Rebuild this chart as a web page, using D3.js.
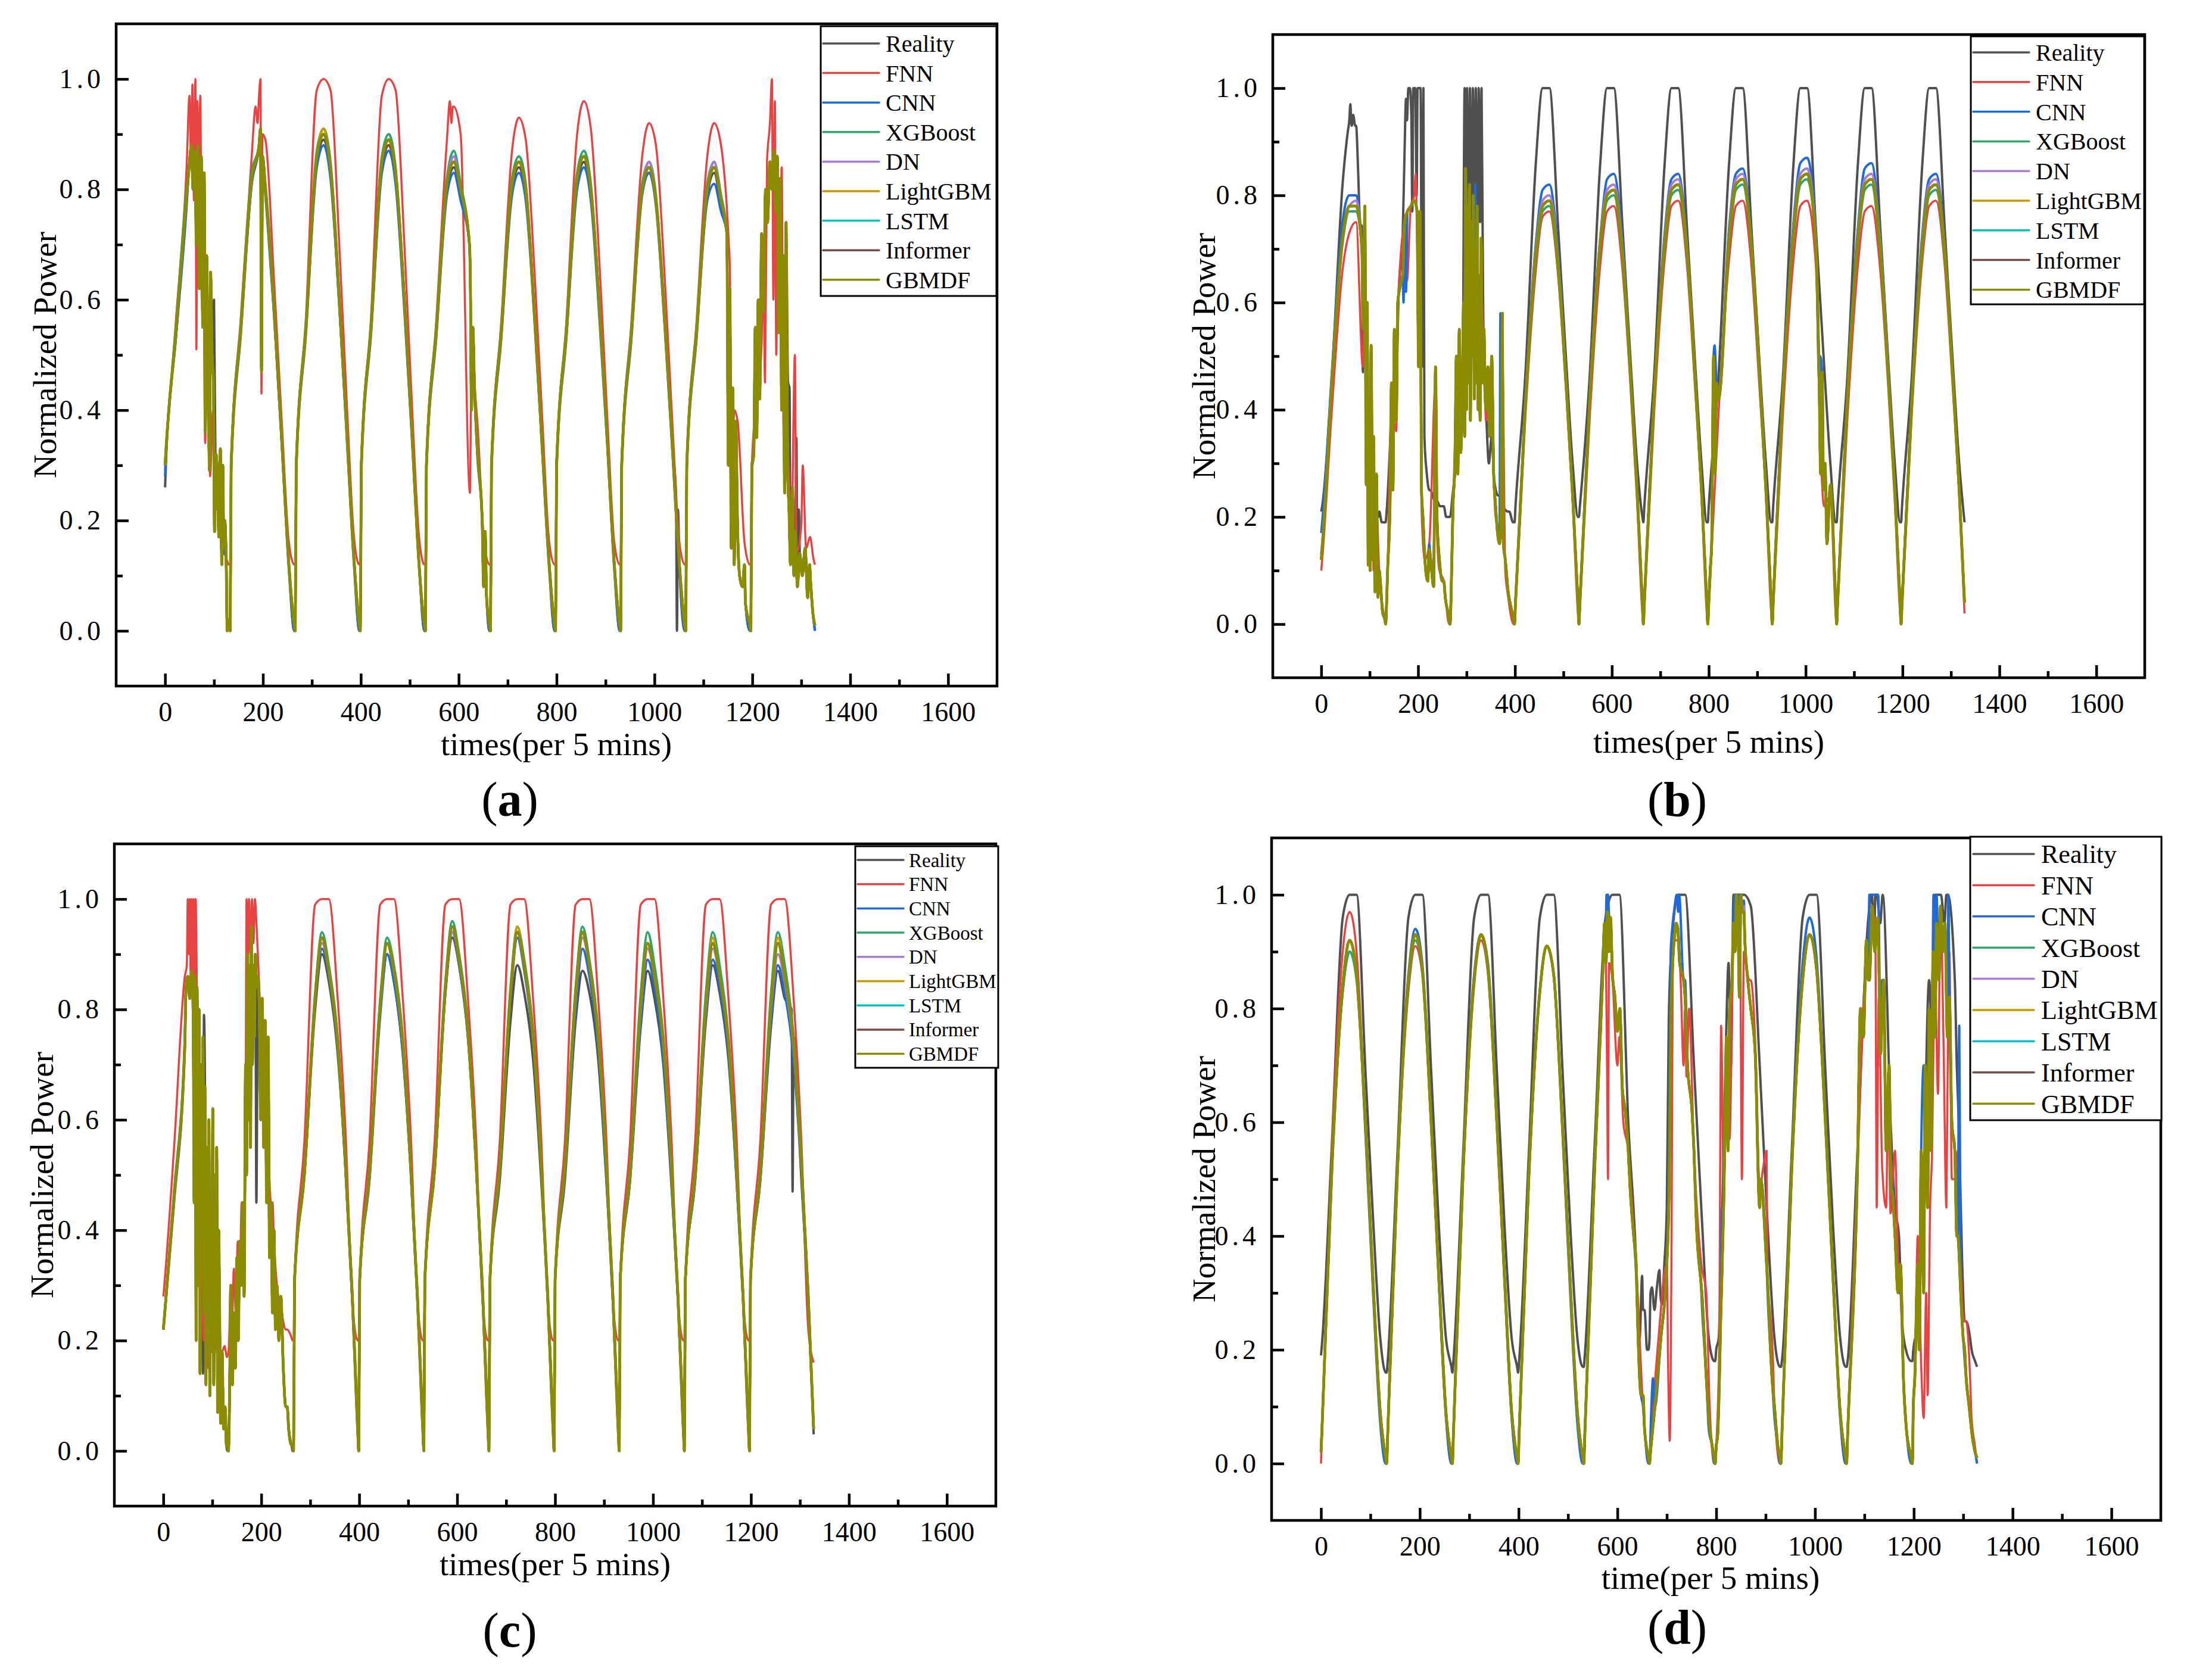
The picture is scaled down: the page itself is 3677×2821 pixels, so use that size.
<!DOCTYPE html>
<html>
<head>
<meta charset="utf-8">
<script src="https://cdn.jsdelivr.net/npm/d3@7"></script>
<style>
  body { margin: 0; background: #fff; }
  text { font-family: "Liberation Serif", "Times New Roman", serif; }
</style>
</head>
<body>
<div id="chart"></div>
<script>
//each day is sampled at the same offsets; values are in hundredths of normalized power
var dayStarts = [0, 133, 266, 399, 532, 665, 798, 931, 1064, 1197];
var dayOffsets = [0, 2, 22, 44, 58, 72, 90, 106, 120, 131];

var seriesNames = ["Reality", "FNN", "CNN", "XGBoost", "DN", "LightGBM", "LSTM", "Informer", "GBMDF"];
var seriesColors = ["#505050", "#e84343", "#1f6ad8", "#2ea56a", "#a87bd8", "#c89a00", "#00c4c4", "#7a4a4a", "#8c8c00"];
var seriesWidths = [4, 3.5, 4, 4, 4, 4, 4, 4, 4.8];

var xTicks = [0, 200, 400, 600, 800, 1000, 1200, 1400, 1600];
var xMinorTicks = [100, 300, 500, 700, 900, 1100, 1300, 1500];
var yTicks = [0, 0.2, 0.4, 0.6, 0.8, 1.0];
var yMinorTicks = [0.1, 0.3, 0.5, 0.7, 0.9];

// ---------- panel (a) ----------
var realityA = [
26,31,53,78,84,81,49,29,14,1,
0,30,55,81,85,80,57,33,12,0,
0,30,55,85,89,83,59,35,13,0,
0,30,55,84,88,82,59,35,12,0,
0,30,54,80,84,79,57,33,12,0,
0,30,54,80,84,79,57,33,12,0,
0,30,54,81,85,79,58,34,12,0,
0,30,54,80,83,78,56,33,12,0,
0,30,54,79,83,77,62,35,12,0,
0,30,50,77,84,75,42,25,12,0];
var fnnA = [
29,32,56,84,95,90,45,28,14,12,
12,30,57,86,93,89,63,37,16,12,
12,30,57,98,100,98,70,40,17,12,
12,30,57,97,100,98,70,40,17,12,
12,30,56,89,95,90,66,38,16,12,
12,30,56,87,93,89,65,38,16,12,
12,30,56,90,96,91,66,38,16,12,
12,30,56,86,92,88,64,37,16,12,
12,30,56,86,92,88,66,38,16,12,
12,30,52,84,90,84,50,30,15,12];
var cnnA = [
28,32,53,77,84,81,49,29,14,1,
0,29,54,81,85,79,57,33,11,0,
0,29,54,84,88,82,59,34,12,0,
0,29,54,83,87,81,58,34,12,0,
0,29,53,79,83,78,56,32,11,0,
0,29,53,79,83,78,56,32,11,0,
0,29,53,80,84,78,56,33,11,0,
0,29,53,79,83,77,55,32,11,0,
0,29,53,78,81,76,61,34,11,0,
0,29,49,76,82,74,41,24,11,0];
var xgbA = [
30,33,55,80,86,83,50,30,15,2,
0,30,56,83,87,81,59,34,12,1,
0,30,56,87,91,85,61,35,13,1,
0,30,56,86,90,84,60,35,12,1,
0,30,55,82,87,81,58,34,12,1,
0,30,55,82,86,81,57,33,12,1,
0,30,55,83,87,81,58,34,12,1,
0,30,55,81,85,79,57,33,12,1,
0,30,55,81,85,79,63,35,12,1,
0,30,51,80,87,77,43,25,12,1];
var dnA = [
30,33,54,79,85,82,50,30,15,2,
0,30,55,82,86,80,58,34,12,1,
0,30,55,86,90,84,60,35,13,1,
0,30,55,85,89,83,60,35,12,1,
0,30,54,81,86,80,57,33,12,1,
0,30,54,81,85,80,57,33,12,1,
0,30,54,82,86,80,58,34,12,1,
0,30,54,80,85,78,56,33,12,1,
0,30,54,80,85,78,62,35,12,1,
0,30,50,78,86,76,42,25,12,1];
var lgbmA = [
30,33,54,79,85,82,50,30,15,2,
0,30,55,82,86,80,58,34,12,1,
0,30,55,86,91,84,60,35,13,1,
0,30,55,85,89,83,60,35,12,1,
0,30,54,81,85,80,57,33,12,1,
0,30,54,81,85,80,57,33,12,1,
0,30,54,82,86,80,58,34,12,1,
0,30,54,80,84,78,56,33,12,1,
0,30,54,80,84,78,62,35,12,1,
0,30,50,78,85,76,42,25,12,1];
var lstmA = [
30,33,54,79,85,82,50,30,15,2,
0,30,55,82,86,80,58,34,12,1,
0,30,55,86,90,84,60,35,13,1,
0,30,55,85,89,83,60,35,12,1,
0,30,54,81,85,80,57,33,12,1,
0,30,54,81,85,80,57,33,12,1,
0,30,54,82,86,80,58,34,12,1,
0,30,54,80,84,78,56,33,12,1,
0,30,54,80,84,78,62,35,12,1,
0,30,50,78,85,76,42,25,12,1];
var informerA = [
30,33,54,79,85,82,50,30,15,2,
0,30,55,82,86,80,58,34,12,1,
0,30,55,86,90,84,60,35,13,1,
0,30,55,85,88,83,60,35,12,1,
0,30,54,81,85,80,57,33,12,1,
0,30,54,81,85,80,57,33,12,1,
0,30,54,82,86,80,58,34,12,1,
0,30,54,80,84,78,56,33,12,1,
0,30,54,80,84,78,62,35,12,1,
0,30,50,78,85,76,42,25,12,1];
var gbmdfA = [
30,33,54,79,85,82,50,30,15,2,
0,30,55,82,86,80,58,34,12,1,
0,30,55,86,90,84,60,35,13,1,
0,30,55,85,89,83,60,35,12,1,
0,30,54,81,85,80,57,33,12,1,
0,30,54,81,85,80,57,33,12,1,
0,30,54,82,86,80,58,34,12,1,
0,30,54,80,84,78,56,33,12,1,
0,30,54,80,84,78,62,35,12,1,
0,30,50,78,85,76,42,25,12,1];
// noisy stretches, [time, value]
var modelSpikesA = [
[49,84],[54,88],[57,80],[61,87],[64,70],[67,88],[70,62],[74,86],[77,55],[80,83],[82,36],[85,68],[88,45],[91,29],[93,65],[96,50],[99,45],[101,18],[104,32],[107,28],[110,17],[113,33],[116,12],[118,30],[122,20],[125,12],[127,0],[129,2],
[192,88],[195,91],[197,47],[199,86],
[622,70],[624,62],[626,40],[629,55],[632,45],[648,20],[651,8],[654,18],[657,6],
[1148,72],[1151,30],[1154,62],[1157,15],[1160,44],[1163,12],[1166,38],[1170,18],[1174,10],[1180,8],[1186,5],
[1203,32],[1206,55],[1209,35],[1212,60],[1215,42],[1219,72],[1223,58],[1227,80],[1231,74],[1236,85],[1240,80],[1244,87],[1248,76],[1251,86],[1254,54],[1257,82],[1260,40],[1263,68],[1266,25],[1269,74],[1272,30],[1275,22],[1278,12],[1282,26],[1285,10],[1288,18],[1292,8],[1297,14],[1302,10],[1308,15],[1313,6],[1319,9],[1324,3]];
var fnnSpikesA = [
[50,97],[53,85],[56,99],[59,78],[62,100],[64,51],[66,96],[69,82],[72,97],[75,60],[78,70],[82,34],[86,55],[92,28],[98,40],[104,22],[110,25],[116,14],
[185,95],[189,92],[192,97],[195,100],[197,43],[199,90],
[582,96],[585,92],[588,95],[623,25],[626,48],
[1152,70],[1158,25],[1163,40],
[1222,70],[1226,45],[1230,85],[1236,92],[1240,100],[1243,60],[1246,96],[1249,50],[1252,80],[1256,58],[1260,84],[1264,35],[1268,45],[1274,30],[1280,18],[1290,14],[1300,19],[1310,15],[1318,17],[1325,13]];
var realitySpikesA = [[64,77],[100,60],[103,30],[1044,25],[1046,0],[1048,22],[1273,45],[1276,44],[1290,35],[1295,22]];

// ---------- panel (b) ----------
var realityB = [
21,22,46,82,94,93,60,30,21,19,
19,21,46,82,98,99,25,23,22,20,
20,21,43,45,55,60,35,24,21,19,
19,22,46,86,100,100,74,50,30,20,
20,22,46,86,100,100,74,50,30,20,
19,22,46,86,100,100,74,50,30,19,
19,22,46,86,100,100,74,50,30,19,
19,22,46,86,100,100,74,50,30,19,
19,22,46,86,100,100,74,50,30,19,
19,22,46,86,100,100,74,50,30,19];
var fnnB = [
10,12,40,66,73,75,57,28,9,1,
0,3,36,64,75,77,15,17,8,0,
0,3,33,58,68,44,28,16,5,0,
0,3,38,66,76,77,65,44,23,2,
0,3,38,67,77,78,66,45,23,2,
0,3,39,68,78,79,67,45,24,2,
0,3,39,68,78,79,67,45,24,2,
0,3,39,68,78,79,67,45,24,2,
0,3,38,67,77,78,66,45,23,2,
0,3,39,68,78,79,67,45,24,2];
var cnnB = [
17,19,47,75,80,80,62,31,10,1,
0,4,40,68,79,79,15,21,8,1,
0,4,36,62,72,46,31,18,6,1,
0,4,41,71,81,82,69,47,25,4,
0,4,42,72,83,84,71,48,25,4,
0,4,42,73,83,84,71,48,25,4,
0,4,43,74,84,85,72,49,26,4,
0,4,44,75,86,87,73,50,26,4,
0,4,43,74,85,86,72,49,26,4,
0,4,42,73,83,84,71,48,25,4];
var xgbB = [
13,15,45,71,77,77,60,30,10,1,
0,4,38,66,76,77,14,20,8,1,
0,4,35,60,70,45,30,18,6,1,
0,4,40,68,77,78,66,45,24,4,
0,4,41,70,79,80,68,46,25,4,
0,4,42,70,80,81,69,47,25,4,
0,4,42,71,81,82,70,47,25,4,
0,4,43,72,82,83,71,48,26,4,
0,4,42,71,81,82,69,47,25,4,
0,4,41,70,80,81,69,47,25,4];
var dnB = [
13,15,46,72,78,79,61,31,10,1,
0,4,39,67,78,79,14,20,8,1,
0,4,36,61,71,46,31,18,6,1,
0,4,41,70,79,80,68,46,24,4,
0,4,42,72,81,82,70,47,25,4,
0,4,42,72,82,83,70,48,25,4,
0,4,43,73,83,84,71,48,26,4,
0,4,43,74,84,85,72,49,26,4,
0,4,42,73,83,84,71,48,25,4,
0,4,42,72,82,83,70,47,25,4];
var lgbmB = [
12,14,45,72,78,78,60,30,10,1,
0,4,38,66,77,78,14,20,8,1,
0,4,35,60,70,45,30,18,6,1,
0,4,40,69,78,79,67,46,24,4,
0,4,41,71,80,81,69,47,25,4,
0,4,42,71,81,82,70,47,25,4,
0,4,42,72,82,83,71,48,25,4,
0,4,43,73,83,84,71,48,26,4,
0,4,42,72,82,83,70,47,25,4,
0,4,41,71,81,82,70,47,25,4];
var lstmB = [
12,14,45,72,78,78,60,30,10,1,
0,4,38,66,77,78,14,20,8,1,
0,4,35,60,70,45,30,18,6,1,
0,4,40,69,78,79,67,46,24,4,
0,4,41,71,80,81,69,47,25,4,
0,4,42,71,81,82,70,47,25,4,
0,4,42,72,82,83,71,48,25,4,
0,4,43,73,83,84,71,48,26,4,
0,4,42,72,82,83,70,47,25,4,
0,4,41,71,81,82,70,47,25,4];
var informerB = [
12,14,45,72,78,78,60,30,10,1,
0,4,38,66,77,78,14,20,8,1,
0,4,35,60,70,45,30,18,6,1,
0,4,40,69,78,79,67,46,24,4,
0,4,41,71,80,81,69,47,25,4,
0,4,42,71,81,82,70,47,25,4,
0,4,42,72,82,83,71,48,25,4,
0,4,43,73,83,84,71,48,26,4,
0,4,42,72,82,83,70,47,25,4,
0,4,41,71,81,82,70,47,25,4];
var gbmdfB = [
12,14,45,72,78,78,60,30,10,1,
0,4,38,66,77,78,14,20,8,1,
0,4,35,60,70,45,30,18,6,1,
0,4,40,69,78,79,67,46,24,4,
0,4,41,71,80,81,69,47,25,4,
0,4,42,71,81,82,70,47,25,4,
0,4,42,72,82,83,71,48,25,4,
0,4,43,73,83,84,71,48,26,4,
0,4,42,72,82,83,70,47,25,4,
0,4,41,71,81,82,70,47,25,4];
var modelSpikesB = [
[84,70],[87,55],[90,78],[93,26],[95,60],[97,11],[99,40],[101,10],[103,52],[106,12],[108,35],[111,6],[114,28],[117,5],[122,8],[127,2],
[137,10],[142,22],[145,45],[148,25],[151,55],[155,38],[158,60],[163,63],[168,65],[172,75],[178,77],[185,78],[192,79],[198,77],[201,48],[204,77],[207,25],[210,20],[214,12],[220,8],[226,12],[232,7],[236,48],[239,20],[244,12],[250,8],[256,5],[262,2],
[268,5],[272,22],[276,30],[279,50],[282,28],[285,55],[288,32],[291,42],[294,60],[296,35],[298,85],[300,40],[302,78],[304,45],[306,82],[308,38],[310,75],[312,50],[314,80],[316,42],[318,70],[320,45],[322,78],[324,40],[326,65],[328,38],[330,72],[333,45],[336,55],[340,40],[344,48],[348,35],[352,50],[356,28],[360,22],[364,17],[368,15],[371,20],[374,58],[376,15],[380,12],[386,6],[392,3],[397,1],
[803,10],[806,15],[810,50],[813,28],[816,45],
[1028,45],[1031,28],[1034,47],[1037,25],[1040,30],[1044,15]];
var fnnSpikesB = [
[86,48],[90,70],[95,30],[100,12],[104,45],[108,10],[115,20],
[145,40],[158,58],[172,74],[185,78],[192,80],[195,84],[198,70],[201,50],[207,22],[214,12],[236,45],[244,10],
[272,20],[285,50],[294,58],[300,70],[306,82],[312,55],[318,75],[324,44],[330,62],[340,38],[352,45],[360,20],[374,50],[380,10],
[1032,30],[1038,22]];
var cnnSpikesB = [[170,60],[175,62],[300,80],[318,82],[370,58],[812,52],[1030,50]];
var realitySpikesB = [
[55,92],[60,97],[63,93],[66,95],[70,93],[76,85],[80,75],[84,74],[86,47],[88,72],[92,46],[96,35],[100,30],[104,28],[110,24],[118,20],[125,19],
[150,45],[160,62],[168,72],[172,88],[175,98],[177,94],[180,100],[183,100],[186,95],[188,77],[190,100],[194,100],[197,80],[199,100],[205,100],[208,48],[211,100],[213,35],[218,28],[225,25],[235,23],[245,22],[258,20],
[270,23],[278,30],[285,40],[292,46],[296,100],[298,55],[301,100],[304,62],[307,100],[310,55],[313,100],[316,70],[319,100],[322,60],[325,100],[328,75],[331,100],[334,62],[337,45],[341,38],[346,30],[352,35],[357,27],[365,24],[375,22],[388,21],[396,19]];

// ---------- panel (c) ----------
var realityC = [
22,24,46,74,84,58,35,28,11,0,
0,8,30,68,83,58,30,22,8,0,
0,31,50,80,90,85,72,51,27,3,
0,31,50,80,90,85,72,51,27,3,
0,31,51,83,93,88,75,53,28,3,
0,31,49,78,88,83,71,50,27,3,
0,31,49,78,87,83,71,50,27,3,
0,31,49,77,87,82,70,49,27,3,
0,31,49,78,88,83,71,50,27,3,
0,31,49,77,87,82,70,49,27,3];
var fnnC = [
28,30,55,85,95,75,30,20,18,17,
18,22,35,60,95,75,45,27,22,20,
20,31,56,99,100,100,82,58,27,20,
20,31,56,99,100,100,82,58,27,20,
20,31,56,99,100,100,82,58,27,20,
20,31,56,99,100,100,82,58,27,20,
20,31,56,99,100,100,82,58,27,20,
20,31,56,99,100,100,82,58,27,20,
20,31,56,99,100,100,82,58,27,20,
20,31,56,99,100,100,82,56,22,16];
var cnnC = [
22,24,45,73,83,58,35,29,11,1,
0,8,29,69,84,59,30,22,8,1,
0,31,50,81,91,86,73,51,27,4,
0,31,49,79,90,85,72,51,27,4,
0,31,51,83,94,88,75,53,28,4,
0,31,50,82,93,87,74,52,28,4,
0,31,50,80,91,86,73,51,27,4,
0,31,49,78,89,84,71,50,27,4,
0,31,49,79,89,84,72,50,27,4,
0,31,49,78,88,83,71,50,27,4];
var xgbC = [
22,24,47,75,85,60,35,30,12,1,
0,8,30,70,86,60,30,22,8,1,
0,31,51,83,94,88,75,52,28,4,
0,31,51,82,93,88,75,52,28,4,
0,31,52,85,96,90,77,54,29,4,
0,31,52,84,95,89,76,53,29,4,
0,31,52,84,95,89,76,53,29,4,
0,31,51,83,94,88,75,53,28,4,
0,31,51,83,94,88,75,53,28,4,
0,31,51,83,94,88,75,53,28,4];
var dnC = [
22,24,46,74,84,60,35,30,12,1,
0,8,30,70,85,60,30,22,8,1,
0,31,50,82,92,87,74,52,28,4,
0,31,50,81,92,87,74,52,28,4,
0,31,51,84,94,89,76,53,29,4,
0,31,51,83,94,88,75,53,28,4,
0,31,51,82,93,88,75,53,28,4,
0,31,50,80,91,86,74,52,28,4,
0,31,50,80,91,86,74,52,28,4,
0,31,50,80,90,85,73,52,28,4];
var lgbmC = [
22,24,46,74,84,60,35,30,12,1,
0,8,30,70,85,60,30,22,8,1,
0,31,50,82,93,87,74,52,28,4,
0,31,50,81,92,87,74,52,28,4,
0,31,51,84,95,89,76,53,29,4,
0,31,51,83,95,88,75,53,28,4,
0,31,51,83,94,88,75,53,28,4,
0,31,50,81,92,86,74,52,28,4,
0,31,50,81,93,86,74,52,28,4,
0,31,50,81,93,86,74,52,28,4];
var lstmC = [
22,24,46,74,84,60,35,30,12,1,
0,8,30,70,85,60,30,22,8,1,
0,31,50,82,93,87,74,52,28,4,
0,31,50,81,92,87,74,52,28,4,
0,31,51,84,95,89,76,53,29,4,
0,31,51,83,94,88,75,53,28,4,
0,31,51,83,94,88,75,53,28,4,
0,31,50,81,92,86,74,52,28,4,
0,31,50,81,92,86,74,52,28,4,
0,31,50,81,92,86,74,52,28,4];
var informerC = [
22,24,46,74,84,60,35,30,12,1,
0,8,30,70,85,60,30,22,8,1,
0,31,50,82,93,87,74,52,28,4,
0,31,50,81,92,87,74,52,28,4,
0,31,51,84,95,89,76,53,29,4,
0,31,51,83,94,88,75,53,28,4,
0,31,51,83,94,88,75,53,28,4,
0,31,50,81,92,86,74,52,28,4,
0,31,50,81,92,86,74,52,28,4,
0,31,50,81,92,86,74,52,28,4];
var gbmdfC = [
22,24,46,74,84,60,35,30,12,1,
0,8,30,70,85,60,30,22,8,1,
0,31,50,82,93,87,74,52,28,4,
0,31,50,81,92,87,74,52,28,4,
0,31,51,84,95,89,76,53,29,4,
0,31,51,83,94,88,75,53,28,4,
0,31,51,83,94,88,75,53,28,4,
0,31,50,81,92,86,74,52,28,4,
0,31,50,81,92,86,74,52,28,4,
0,31,50,81,92,86,74,52,28,4];
var modelSpikesC = [
[46,83],[50,86],[54,82],[58,87],[61,80],[63,45],[65,86],[67,20],[69,84],[71,30],[73,80],[75,14],[77,70],[79,40],[81,75],[83,25],[85,66],[87,12],[89,55],[91,30],[93,60],[95,10],[97,45],[99,18],[101,62],[103,12],[105,50],[107,20],[109,55],[111,7],[113,40],[115,25],[117,5],[120,18],[123,4],[126,8],[129,1],
[135,8],[138,30],[141,12],[144,25],[147,15],[150,35],[153,20],[156,38],[159,30],[162,45],[165,28],[168,70],[170,50],[172,90],[174,60],[176,88],[178,55],[180,95],[182,70],[184,88],[186,75],[188,90],[190,84],[193,86],[196,80],[199,60],[202,82],[205,55],[208,78],[211,45],[214,75],[217,35],[220,45],[223,25],[226,40],[229,22],[232,30],[236,20],[240,28],[245,15],[250,8],[256,4],[262,1]];
var fnnSpikesC = [
[44,86],[48,88],[50,100],[52,90],[54,100],[56,85],[58,100],[60,80],[62,100],[64,75],[66,100],[68,88],[70,65],[72,50],[75,35],[78,45],[82,20],[86,38],[90,15],[95,22],[100,18],[105,20],[112,17],[118,18],[125,19],[130,17],
[137,30],[140,22],[144,33],[148,25],[152,38],[156,30],[160,45],[164,35],[168,60],[170,100],[172,85],[175,100],[178,90],[181,100],[184,92],[187,100],[190,96],[194,88],[198,80],[203,75],[208,68],[214,55],[220,45],[226,38],[232,30],[240,26],[250,22],[260,21]];
var realitySpikesC = [[81,14],[83,79],[186,80],[190,45],[193,84],[1283,80],[1285,47],[1287,75]];

// ---------- panel (d) ----------
var realityD = [
19,21,56,96,100,100,69,42,22,16,
16,18,55,96,100,100,69,41,22,17,
16,18,55,96,100,100,69,41,22,17,
16,18,55,96,100,100,69,41,22,17,
17,19,56,96,100,100,60,35,27,20,
22,30,30,90,100,100,70,43,22,18,
18,20,50,100,100,98,70,42,22,17,
17,18,55,96,100,100,69,41,22,17,
17,18,55,96,100,100,58,40,20,18,
18,20,48,95,100,100,70,25,20,17];
var fnnD = [
0,5,55,90,97,90,60,30,8,0,
0,5,51,83,91,86,59,31,8,0,
0,5,51,84,92,86,59,31,8,0,
0,5,51,83,91,86,59,31,8,0,
0,5,51,85,88,75,55,35,10,0,
0,3,25,75,92,80,55,30,8,0,
0,3,65,95,95,85,48,30,10,0,
0,5,52,85,93,87,60,32,8,0,
0,5,52,85,95,75,50,30,8,0,
0,10,35,80,95,75,50,25,8,0];
var cnnD = [
2,6,52,83,90,86,58,29,7,0,
0,5,53,86,94,88,61,31,8,0,
0,5,53,86,93,88,61,31,8,0,
0,5,51,83,91,86,58,29,7,0,
0,5,53,90,92,80,55,33,10,0,
0,2,20,85,97,85,55,28,6,0,
0,3,68,99,99,88,46,30,8,0,
0,5,53,88,96,89,61,31,8,0,
0,5,53,88,99,85,50,30,6,0,
0,10,50,90,99,85,42,18,4,0];
var xgbD = [
2,6,51,83,90,85,59,31,9,1,
0,5,52,84,92,87,60,32,9,1,
0,5,52,85,93,87,60,32,9,1,
0,5,51,83,91,86,59,31,9,1,
0,5,52,87,88,78,55,35,12,1,
0,2,22,80,94,82,55,30,8,1,
0,3,70,96,97,85,45,32,10,1,
0,5,52,85,93,87,60,32,9,1,
0,5,52,85,95,80,48,32,8,1,
0,10,45,85,95,80,40,20,6,1];
var dnD = [
2,6,52,84,92,86,60,31,9,1,
0,5,52,85,93,87,60,32,9,1,
0,5,52,85,93,87,60,32,9,1,
0,5,51,83,91,86,59,31,9,1,
0,5,52,88,89,78,55,35,12,1,
0,2,22,80,94,82,55,30,8,1,
0,3,70,97,98,85,45,32,10,1,
0,5,52,85,93,87,60,32,9,1,
0,5,52,85,97,80,48,32,8,1,
0,10,45,85,97,80,40,20,6,1];
var lgbmD = [
2,6,52,84,92,86,60,31,9,1,
0,5,52,85,93,87,60,32,9,1,
0,5,52,85,93,87,60,32,9,1,
0,5,51,83,91,86,59,31,9,1,
0,5,52,88,88,78,55,35,12,1,
0,2,22,80,93,82,55,30,8,1,
0,3,70,97,97,85,45,32,10,1,
0,5,52,85,93,87,60,32,9,1,
0,5,52,85,96,80,48,32,8,1,
0,10,45,85,96,80,40,20,6,1];
var lstmD = [
2,6,52,84,92,86,60,31,9,1,
0,5,52,85,93,87,60,32,9,1,
0,5,52,85,93,87,60,32,9,1,
0,5,51,83,91,86,59,31,9,1,
0,5,52,88,88,78,55,35,12,1,
0,2,22,80,93,82,55,30,8,1,
0,3,70,97,97,85,45,32,10,1,
0,5,52,85,93,87,60,32,9,1,
0,5,52,85,96,80,48,32,8,1,
0,10,45,85,96,80,40,20,6,1];
var informerD = [
2,6,52,84,92,86,60,31,9,1,
0,5,52,85,93,87,60,32,9,1,
0,5,52,85,93,87,60,32,9,1,
0,5,51,83,91,86,59,31,9,1,
0,5,52,88,88,78,55,35,12,1,
0,2,22,80,93,82,55,30,8,1,
0,3,70,97,97,85,45,32,10,1,
0,5,52,85,93,87,60,32,9,1,
0,5,52,85,96,80,48,32,8,1,
0,10,45,85,96,80,40,20,6,1];
var gbmdfD = [
2,6,52,84,92,86,60,31,9,1,
0,5,52,85,93,87,60,32,9,1,
0,5,52,85,93,87,60,32,9,1,
0,5,51,83,91,86,59,31,9,1,
0,5,52,88,88,78,55,35,12,1,
0,2,22,80,93,82,55,30,8,1,
0,3,70,97,97,85,45,32,10,1,
0,5,52,85,93,87,60,32,9,1,
0,5,52,85,96,80,48,32,8,1,
0,10,45,85,96,80,40,20,6,1];
var modelSpikesD = [
[570,85],[574,95],[577,88],[580,97],[583,90],[586,96],[590,86],[595,82],[600,76],[605,80],[610,66],[616,62],[626,48],[633,40],[641,25],[648,12],[655,6],
[676,10],[688,22],[700,35],[705,50],[708,75],[712,88],[716,93],[719,95],[726,88],[734,85],[742,70],[751,62],[760,42],[769,32],[780,15],[792,3],
[803,5],[809,25],[815,45],[818,60],[821,75],[824,55],[827,80],[832,85],[835,95],[838,90],[841,100],[844,96],[847,82],[850,100],[853,97],[858,92],[864,85],[870,80],[879,72],[890,50],[902,35],[913,15],[925,3],
[1092,80],[1098,75],[1104,92],[1110,85],[1116,98],[1121,90],[1127,96],[1133,72],[1139,85],[1144,55],[1150,70],[1156,48],[1162,40],[1168,30],[1173,35],[1179,15],[1185,6],
[1202,15],[1208,35],[1211,20],[1215,55],[1220,30],[1223,70],[1228,45],[1231,80],[1235,55],[1239,90],[1243,75],[1246,95],[1251,85],[1254,98],[1259,90],[1263,95],[1268,75],[1272,82],[1277,60],[1283,55],[1289,40],[1295,30],[1300,22],[1306,15],[1312,10],[1318,5],[1324,2]];
var fnnSpikesD = [
[576,90],[579,70],[581,50],[583,88],[590,85],[600,70],[612,60],[630,45],
[688,27],[694,33],[700,35],[703,15],[706,4],[709,30],[713,93],[717,92],[728,85],[734,70],[740,68],[745,80],[770,35],[780,30],[786,12],[792,2],
[806,20],[810,77],[815,50],[821,70],[827,57],[835,92],[842,96],[848,97],[852,50],[856,90],[867,85],[880,72],[895,52],[902,55],[906,29],[915,18],
[1104,87],[1116,97],[1125,45],[1129,82],[1136,52],[1144,45],[1148,65],[1153,44],[1162,55],[1173,30],[1179,15],
[1202,15],[1208,40],[1214,20],[1220,8],[1225,30],[1228,12],[1233,45],[1237,55],[1243,85],[1249,65],[1254,98],[1260,75],[1266,45],[1272,90],[1277,50],[1289,55],[1298,28],[1306,25],[1314,15],[1324,3]];
var cnnSpikesD = [
[578,100],[581,100],[584,95],[668,8],[672,15],[705,60],[708,90],[712,95],[716,98],[720,100],[725,100],[812,45],[820,65],[838,100],[846,100],
[1110,100],[1116,100],[1122,100],[1128,100],[1220,70],[1240,100],[1246,100],[1270,100],[1292,77]];
var realitySpikesD = [
[640,30],[645,22],[650,33],[655,27],[660,20],[670,31],[675,27],[680,31],[685,34],[690,28],[695,35],[700,45],[704,78],
[805,22],[810,35],[815,55],[820,75],[825,88],[830,70],[835,100],
[1115,100],[1120,92],[1125,100],[1132,95],[1137,100],[1162,45],[1176,25],
[1208,25],[1220,50],[1231,85],[1237,75],[1243,100],[1262,95],[1266,100],[1283,85],[1291,60],[1298,35],[1306,25],[1314,22],[1324,18]];

//define SVG area
var svgWidth = 3677;
var svgHeight = 2821;

var svg = d3.select("#chart")
  .append("svg")
  .attr("width", svgWidth)
  .attr("height", svgHeight);

svg.append("rect").attr("width", svgWidth).attr("height", svgHeight).attr("fill", "#fff");

var panels = [
  { key: "a", box: [195, 1674, 40, 1152],
    values: [realityA, fnnA, cnnA, xgbA, dnA, lgbmA, lstmA, informerA, gbmdfA],
    own: { 0: realitySpikesA, 1: fnnSpikesA }, shared: modelSpikesA, sharedFor: [0, 2, 3, 4, 5, 6, 7, 8],
    legend: { left: 1378, top: 44, right: 1673, bottom: 497, row0: 73, step: 49.6, x0: 1382, x1: 1476, tx: 1487, fs: 40 },
    xTitle: "times(per 5 mins)", xTitleX: 934, xTitleY: 1268, yTitleX: 94, labelX: 856, labelY: 1370 },
  { key: "b", box: [2137, 3601, 58, 1138],
    values: [realityB, fnnB, cnnB, xgbB, dnB, lgbmB, lstmB, informerB, gbmdfB],
    own: { 0: realitySpikesB, 1: fnnSpikesB, 2: cnnSpikesB }, shared: modelSpikesB, sharedFor: [2, 3, 4, 5, 6, 7, 8],
    legend: { left: 3309, top: 61, right: 3600, bottom: 511, row0: 88, step: 49.8, x0: 3313, x1: 3407, tx: 3418, fs: 40 },
    xTitle: "times(per 5 mins)", xTitleX: 2869, xTitleY: 1264, yTitleX: 2040, labelX: 2816, labelY: 1370 },
  { key: "c", box: [192, 1672, 1417, 2529],
    values: [realityC, fnnC, cnnC, xgbC, dnC, lgbmC, lstmC, informerC, gbmdfC],
    own: { 0: realitySpikesC, 1: fnnSpikesC }, shared: modelSpikesC, sharedFor: [0, 2, 3, 4, 5, 6, 7, 8],
    legend: { left: 1436, top: 1421, right: 1676, bottom: 1793, row0: 1444, step: 40.7, x0: 1440, x1: 1517, tx: 1526, fs: 33 },
    xTitle: "times(per 5 mins)", xTitleX: 932, xTitleY: 2645, yTitleX: 89, labelX: 856, labelY: 2765 },
  { key: "d", box: [2135, 3628, 1407, 2553],
    values: [realityD, fnnD, cnnD, xgbD, dnD, lgbmD, lstmD, informerD, gbmdfD],
    own: { 0: realitySpikesD, 1: fnnSpikesD, 2: cnnSpikesD }, shared: modelSpikesD, sharedFor: [2, 3, 4, 5, 6, 7, 8],
    legend: { left: 3308, top: 1405, right: 3629, bottom: 1881, row0: 1434, step: 52.4, x0: 3313, x1: 3415, tx: 3427, fs: 44 },
    xTitle: "time(per 5 mins)", xTitleX: 2872, xTitleY: 2668, yTitleX: 2040, labelX: 2816, labelY: 2760 }
];

//merge the daily samples with the noisy points read for that series
function buildPoints(vals, own, shared) {
  var extra = (own || []).slice();
  (shared || []).forEach(function(p) {
    if (!extra.some(function(q) { return Math.abs(q[0] - p[0]) <= 1; })) extra.push(p);
  });
  var pts = [];
  dayStarts.forEach(function(s, i) {
    dayOffsets.forEach(function(o, j) {
      var t = s + o;
      if (!extra.some(function(q) { return Math.abs(q[0] - t) <= 1; })) {
        pts.push([t, vals[i * dayOffsets.length + j]]);
      }
    });
  });
  return pts.concat(extra).sort(function(p, q) { return p[0] - q[0]; });
}

panels.forEach(function(p) {
  var left = p.box[0], right = p.box[1], top = p.box[2], bottom = p.box[3];

  var xScale = d3.scaleLinear().domain([-100, 1700]).range([left, right]);
  var yScale = d3.scaleLinear().domain([-0.1, 1.1]).range([bottom, top]);

  var clipId = "clip-" + p.key;
  svg.append("clipPath").attr("id", clipId)
    .append("rect").attr("x", left).attr("y", top).attr("width", right - left).attr("height", bottom - top);

  var line = d3.line()
    .x(d => xScale(d[0]))
    .y(d => yScale(d[1] / 100))
    .curve(d3.curveMonotoneX);

  var lines = svg.append("g").attr("clip-path", "url(#" + clipId + ")");
  p.values.forEach(function(vals, i) {
    var shared = p.sharedFor.indexOf(i) >= 0 ? p.shared : null;
    lines.append("path")
      .datum(buildPoints(vals, p.own[i], shared))
      .attr("d", line)
      .attr("fill", "none")
      .attr("stroke", seriesColors[i])
      .attr("stroke-width", seriesWidths[i])
      .attr("stroke-linejoin", "round");
  });

  //axes: ticks point inward like the original
  var gx = svg.append("g").attr("transform", `translate(0, ${bottom})`)
    .call(d3.axisBottom(xScale).tickValues(xTicks).tickSize(-21).tickPadding(26).tickFormat(d3.format("d")));
  var gxm = svg.append("g").attr("transform", `translate(0, ${bottom})`)
    .call(d3.axisBottom(xScale).tickValues(xMinorTicks).tickSize(-11).tickFormat(""));
  var gy = svg.append("g").attr("transform", `translate(${left}, 0)`)
    .call(d3.axisLeft(yScale).tickValues(yTicks).tickSize(-21).tickPadding(20).tickFormat(d3.format(".1f")));
  var gym = svg.append("g").attr("transform", `translate(${left}, 0)`)
    .call(d3.axisLeft(yScale).tickValues(yMinorTicks).tickSize(-11).tickFormat(""));

  [gx, gxm, gy, gym].forEach(function(g) {
    g.select(".domain").remove();
    g.selectAll("line").attr("stroke", "#000").attr("stroke-width", 4.5);
    g.selectAll("text").attr("fill", "#000").attr("font-size", 46)
      .attr("font-family", "Liberation Serif");
  });
  gy.selectAll("text").attr("letter-spacing", 6);

  svg.append("rect")
    .attr("x", left).attr("y", top)
    .attr("width", right - left).attr("height", bottom - top)
    .attr("fill", "none").attr("stroke", "#000").attr("stroke-width", 4.5);

  //legend
  var lg = p.legend;
  svg.append("rect")
    .attr("x", lg.left).attr("y", lg.top)
    .attr("width", lg.right - lg.left).attr("height", lg.bottom - lg.top)
    .attr("fill", "#fff").attr("stroke", "#000").attr("stroke-width", 3);
  seriesNames.forEach(function(name, i) {
    var yy = lg.row0 + i * lg.step;
    svg.append("line")
      .attr("x1", lg.x0).attr("x2", lg.x1).attr("y1", yy).attr("y2", yy)
      .attr("stroke", seriesColors[i]).attr("stroke-width", 3.5).attr("stroke-linecap", "round");
    svg.append("text")
      .attr("x", lg.tx).attr("y", yy).attr("dy", "0.35em")
      .attr("font-size", lg.fs).attr("fill", "#000")
      .text(name);
  });

  //axis titles
  svg.append("text")
    .attr("x", p.xTitleX).attr("y", p.xTitleY)
    .attr("text-anchor", "middle").attr("font-size", 55)
    .text(p.xTitle);

  svg.append("text")
    .attr("transform", `translate(${p.yTitleX}, ${(top + bottom) / 2}) rotate(-90)`)
    .attr("text-anchor", "middle").attr("font-size", 55)
    .text("Normalized Power");

  //panel letter
  var lab = svg.append("text")
    .attr("x", p.labelX).attr("y", p.labelY)
    .attr("text-anchor", "middle").attr("font-size", 82);
  lab.append("tspan").text("(");
  lab.append("tspan").attr("font-weight", "bold").text(p.key);
  lab.append("tspan").text(")");
});
</script>
</body>
</html>
